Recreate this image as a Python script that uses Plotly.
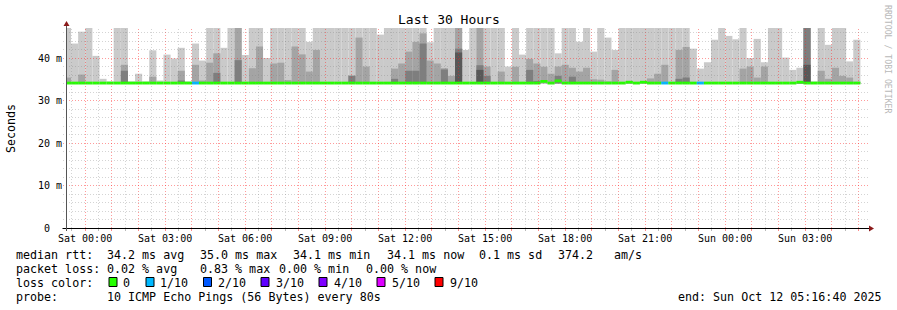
import plotly.graph_objects as go
import pandas as pd
import math

MONO = "DejaVu Sans Mono"
C = 52.0   # value beyond the top of the chart (clipped)
N = None   # layer not visible

# ---- smoke layers: upper ping of each pair (10 pings, sorted) ----
ping10 = [
    C, 43.4, 46.2, C, 40.5, 35.1, 34.5, C, C, 34.5,
    36.3, 34.5, 41.8, 34.7, 40.8, 39.9, 42.4, 34.5, 43.4, 39.4,
    C, C, 42.4, C, C, 40.7, C, C, 40.0, C,
    C, C, C, C, 43.8, C, C, C, C, C,
    C, C, C, C, 45.5, C, C, C, C, C,
    C, 43.7, C, C, C, C, 41.9, C, C, C,
    C, C, 38.0, C, 40.8, C, C, C, C, 41.1,
    C, C, 43.8, C, 41.5, C, 44.8, 41.9, C, C,
    C, C, C, C, C, C, C, C, 42.2, 37.5,
    39.0, 44.3, C, 45.2, 44.4, C, 40.0, 44.5, 39.0, C,
    C, 40.1, 37.2, 37.7, C, 34.5, C, 43.1, C, C,
    39.2, 44.3,
]
ping9 = [
    35.4, N, 36.1, N, N, N, N, N, 38.4, N,
    N, N, 35.6, N, N, N, 37.0, N, 38.4, 34.7,
    38.9, 41.1, N, N, C, N, 37.6, 42.7, N, 38.7,
    38.9, 34.8, 42.7, 40.85, 36.8, 41.9, N, N, N, N,
    35.9, 44.8, 38.0, N, N, N, 37.5, 38.7, 41.5, 43.8,
    45.8, 39.4, 38.7, 37.6, 35.8, C, N, N, C, 38.0,
    N, 36.8, N, 37.95, N, 39.8, 38.7, 37.95, 36.3, 38.0,
    38.4, 37.7, 36.8, 37.7, 35.0, 34.9, 34.5, 37.2, N, 34.6,
    N, 34.6, 35.2, 36.3, 38.4, N, 41.9, 42.6, N, N,
    N, N, N, N, N, 37.5, 38.0, 35.4, 38.0, N,
    N, N, N, 34.4, C, N, 37.0, 35.1, 37.7, 35.8,
    35.4, 34.4,
]
ping8 = [
    N, N, N, N, N, N, N, N, 37.0, N,
    N, N, N, N, N, N, 34.7, N, N, N,
    N, 36.5, N, N, 39.5, N, N, N, N, N,
    N, N, N, N, N, N, N, N, N, N,
    35.8, N, N, N, N, N, 35.1, N, 37.0, 37.0,
    43.4, N, N, 37.3, N, 42.2, N, N, 38.3, 35.8,
    N, N, N, N, N, 37.2, 34.6, N, N, 35.8,
    N, 35.6, N, N, N, N, N, N, N, N,
    N, N, N, N, N, N, 35.1, 35.4, N, N,
    N, N, N, N, N, N, N, N, N, N,
    N, N, N, N, C, N, N, N, N, N,
    N, N,
]
ping7 = [
    N, N, N, N, N, N, N, N, N, N,
    N, N, N, N, N, N, N, N, N, N,
    N, N, N, N, N, N, N, N, N, N,
    N, N, N, N, N, N, N, N, N, N,
    N, N, N, N, N, N, N, N, N, N,
    N, N, N, N, N, 41.3, N, N, 37.2, N,
    N, N, N, N, N, N, N, N, N, N,
    N, N, N, N, N, N, N, N, N, N,
    N, N, N, N, N, N, N, N, N, N,
    N, N, N, N, N, N, N, N, N, N,
    N, N, N, N, 38.4, N, N, N, N, N,
    N, N,
]
median_rtt = [
    34.1, 34.1, 34.1, 34.1, 34.1, 34.1, 34.1, 34.1, 34.1, 34.1,
    34.1, 34.1, 34.1, 34.1, 34.1, 34.1, 34.1, 34.1, 34.1, 34.1,
    34.1, 34.1, 34.1, 34.1, 34.1, 34.1, 34.1, 34.1, 34.1, 34.1,
    34.1, 34.1, 34.1, 34.1, 34.1, 34.1, 34.1, 34.1, 34.1, 34.1,
    34.1, 34.1, 34.1, 34.1, 34.1, 34.1, 34.1, 34.1, 34.1, 34.1,
    34.1, 34.1, 34.1, 34.1, 34.1, 34.1, 34.1, 34.1, 34.1, 34.1,
    34.1, 34.1, 34.1, 34.1, 34.1, 34.1, 34.1, 34.5, 34.1, 34.6,
    34.1, 34.1, 34.1, 34.1, 34.1, 34.1, 34.1, 34.1, 34.1, 34.3,
    34.1, 34.3, 34.1, 34.1, 34.1, 34.1, 34.1, 34.1, 34.1, 34.1,
    34.1, 34.1, 34.1, 34.1, 34.1, 34.1, 34.1, 34.1, 34.1, 34.1,
    34.1, 34.1, 34.1, 34.3, 34.1, 34.1, 34.1, 34.1, 34.1, 34.1,
    34.1, 34.1,
]
loss_count = [
    0, 0, 0, 0, 0, 0, 0, 0, 0, 0,
    0, 0, 0, 0, 0, 0, 0, 0, 1, 0,
    0, 0, 0, 0, 0, 0, 0, 0, 0, 0,
    0, 0, 0, 0, 0, 0, 0, 0, 0, 0,
    0, 0, 0, 0, 0, 0, 0, 0, 0, 0,
    0, 0, 0, 0, 0, 0, 0, 0, 0, 0,
    0, 0, 0, 0, 0, 0, 0, 0, 0, 0,
    0, 0, 0, 0, 0, 0, 0, 0, 0, 0,
    0, 0, 0, 0, 1, 0, 0, 0, 0, 1,
    0, 0, 0, 0, 0, 0, 0, 0, 0, 0,
    0, 0, 0, 0, 0, 0, 0, 0, 0, 0,
    0, 0,
]

loss_labels = ["0", "1/10", "2/10", "3/10", "4/10", "5/10", "9/10"]
loss_keys = [0, 1, 2, 3, 4, 5, 9]
loss_colors = ["#26ff00", "#00b8ff", "#0059ff", "#5e00ff", "#7e00ff", "#dd00ff", "#ff0000"]
loss_map = dict(zip(loss_keys, loss_colors))

yticks = [0, 10, 20, 30, 40]
ytick_text = ["0\u00a0\u00a0", "10 m", "20 m", "30 m", "40 m"]

t_start = pd.Timestamp("2025-10-10 23:16:40")
t_end = pd.Timestamp("2025-10-12 05:16:40")
first_bar = pd.Timestamp("2025-10-10 23:12:00")
step = pd.Timedelta(minutes=16)
FMT = "%Y-%m-%d %H:%M:%S"

centers = [(first_bar + step * i + step / 2).strftime(FMT) for i in range(len(ping10))]
width_ms = step.total_seconds() * 1000
smoke_base = 34.0

fig = go.Figure()


def smoke(vals, color):
    return go.Bar(
        x=centers,
        y=[None if v is None else v - smoke_base for v in vals],
        base=smoke_base, width=width_ms,
        marker=dict(color=color, line=dict(width=0)),
        hoverinfo="skip", showlegend=False,
    )


fig.add_trace(smoke(ping10, "#cacaca"))
fig.add_trace(smoke(ping9, "#a4a4a4"))
fig.add_trace(smoke(ping8, "#7e7e7e"))
fig.add_trace(smoke(ping7, "#585858"))

half = 0.33
fig.add_trace(go.Bar(
    x=centers, y=[2 * half] * len(median_rtt),
    base=[m - half for m in median_rtt], width=width_ms,
    marker=dict(color=[loss_map[c] for c in loss_count], line=dict(width=0)),
    hoverinfo="skip", showlegend=False,
))

# plot geometry (pixels)
PL, PT, PW, PH = 66, 28, 800, 200
W, H = 897, 310
PX_PER_M = 4.25
span_s = (t_end - t_start).total_seconds()


def fx(px):
    return (px - PL) / PW


def fy(py):
    return (PT + PH - py) / PH


def crisp(p):
    return math.floor(p) + 0.5


ymax = PH / PX_PER_M

hours = pd.date_range("2025-10-11 00:00", t_end, freq="1h")
halves = pd.date_range("2025-10-10 23:30", t_end, freq="30min")
half_only = [t for t in halves if t.minute == 30]
tickvals = [t.strftime(FMT) for t in hours]
label_hours = [t for t in hours if t.hour % 3 == 0]

shapes = []
GRID_MINOR = "rgba(128,128,128,0.34)"
GRID_MAJOR = "rgba(255,30,30,0.45)"
DOT = "1px,2px"
for t in halves:
    col = GRID_MAJOR if t.minute == 0 else GRID_MINOR
    px = crisp(PL + (t - t_start).total_seconds() / span_s * PW)
    shapes.append(dict(type="line", xref="paper", yref="paper",
                       x0=fx(px), x1=fx(px), y0=0, y1=1,
                       line=dict(color=col, width=1, dash=DOT), layer="above"))
for v in range(2, 47, 2):
    col = GRID_MAJOR if v % 10 == 0 else GRID_MINOR
    py = crisp(PT + PH - v * PX_PER_M)
    shapes.append(dict(type="line", xref="paper", yref="paper",
                       x0=fx(63), x1=fx(868), y0=fy(py), y1=fy(py),
                       line=dict(color=col, width=1, dash=DOT), layer="above"))
# axes lines
shapes.append(dict(type="line", xref="paper", yref="paper", x0=fx(62.5), x1=fx(869), y0=fy(228.5), y1=fy(228.5),
                   line=dict(color="black", width=1), layer="above"))
shapes.append(dict(type="line", xref="paper", yref="paper", x0=fx(66.5), x1=fx(66.5), y0=fy(231), y1=fy(24),
                   line=dict(color="#555555", width=1), layer="above"))
# arrows
ax, ay = 869, 228.5
shapes.append(dict(type="path", xref="paper", yref="paper",
                   path=f"M {fx(ax)} {fy(ay-3)} L {fx(ax)} {fy(ay+3)} L {fx(ax+5)} {fy(ay)} Z",
                   fillcolor="#8b1a1a", line=dict(width=0), layer="above"))
bx, by = 66.5, 21
shapes.append(dict(type="path", xref="paper", yref="paper",
                   path=f"M {fx(bx-3)} {fy(by+5)} L {fx(bx+3)} {fy(by+5)} L {fx(bx)} {fy(by)} Z",
                   fillcolor="#8b1a1a", line=dict(width=0), layer="above"))

# legend boxes
box_x = [109, 146, 203.5, 261, 319, 377, 435]
lab_x = [122, 159, 217, 275, 333, 391, 449]
for bxp, col in zip(box_x, loss_colors):
    shapes.append(dict(type="rect", xref="paper", yref="paper",
                       x0=fx(bxp), x1=fx(bxp + 8), y0=fy(286.5), y1=fy(277.5),
                       fillcolor=col, line=dict(color="black", width=1), layer="above"))

LEG = 11.67
ann = []


def text(x, y, s, size=LEG, anchor="left", color="black", angle=0):
    ann.append(dict(x=fx(x), y=fy(y), xref="paper", yref="paper", text=s, showarrow=False,
                    xanchor=anchor, yanchor="middle", textangle=angle,
                    font=dict(family=MONO, size=size, color=color), borderpad=0))


# x-axis time labels (every 3 hours)
for t in label_hours:
    ann.append(dict(x=t.strftime(FMT), y=fy(238), xref="x", yref="paper",
                    text=t.strftime("%a %H:%M"), showarrow=False,
                    xanchor="center", yanchor="middle",
                    font=dict(family=MONO, size=10, color="black"), borderpad=0))

r1, r2, r3, r4 = 254.5, 268.5, 282.5, 296.5
text(15, r1, "median rtt:")
for x, s in [(106.3, "34.2 ms avg"), (199, "35.0 ms max"), (292.3, "34.1 ms min"),
             (385.7, "34.1 ms now"), (478.3, "0.1 ms sd"), (557.3, "374.2"), (613.3, "am/s")]:
    text(x, r1, s)
text(15, r2, "packet loss:")
for x, s in [(106.3, "0.02 % avg"), (199, "0.83 % max"), (278.3, "0.00 % min"), (364.7, "0.00 % now")]:
    text(x, r2, s)
text(15, r3, "loss color:")
for x, s in zip(lab_x, loss_labels):
    text(x, r3, s)
text(15, r4, "probe:")
text(106.3, r4, "10 ICMP Echo Pings (56 Bytes) every 80s")
text(677.3, r4, "end: Sun Oct 12 05:16:40 2025")

text(448.5, 20, "Last 30 Hours", size=13, anchor="center")
text(11, 128, "Seconds", anchor="center", angle=-90)
text(888, 59, "RRDTOOL / TOBI OETIKER", size=8.2, anchor="center", color="#b8b8b8", angle=90)

fig.update_layout(
    width=W, height=H,
    margin=dict(l=PL, r=W - PL - PW, t=PT, b=H - PT - PH, pad=0),
    paper_bgcolor="white", plot_bgcolor="white",
    barmode="overlay", showlegend=False,
    font=dict(family=MONO, size=10, color="black"),
    shapes=shapes, annotations=ann,
    xaxis=dict(type="date", range=[t_start.strftime(FMT), t_end.strftime(FMT)],
               tickmode="array", tickvals=tickvals, showticklabels=False,
               ticks="outside", ticklen=2, tickcolor="rgba(255,60,60,0.6)", tickwidth=1,
               showgrid=False, zeroline=False, showline=False,
               minor=dict(tickvals=[t.strftime(FMT) for t in half_only], ticks="outside",
                          ticklen=2, tickcolor="rgba(140,140,140,0.6)", showgrid=False),
               fixedrange=True),
    yaxis=dict(range=[0, ymax], tickmode="array", tickvals=yticks, ticktext=ytick_text,
               ticks="", showgrid=False, zeroline=False, showline=False,
               tickfont=dict(family=MONO, size=10), ticklabelstandoff=3, fixedrange=True),
)

fig.write_html("out.html")
